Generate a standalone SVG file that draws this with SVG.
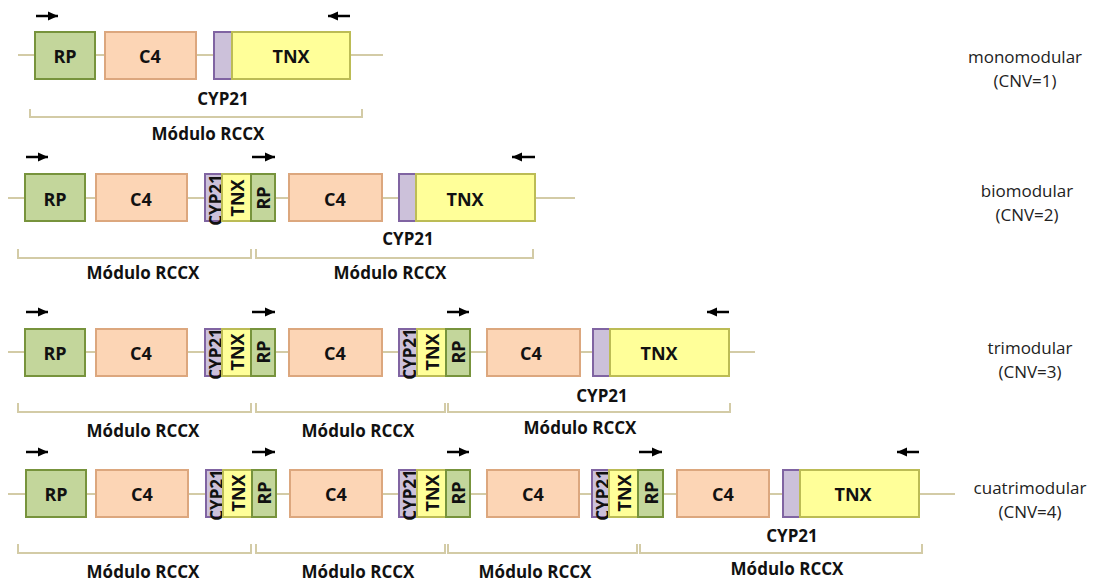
<svg xmlns="http://www.w3.org/2000/svg" width="1096" height="581" viewBox="0 0 1096 581">
<style>
.rp{fill:#c3d69b;stroke:#77933c;stroke-width:2}
.c4{fill:#fcd5b5;stroke:#dca77e;stroke-width:2}
.cyp{fill:#ccc1da;stroke:#8064a2;stroke-width:2}
.tnx{fill:#ffff99;stroke:#bcbc55;stroke-width:2}
.bb{stroke:#d3cba6;stroke-width:2;fill:none}
.br{stroke:#d3cba6;stroke-width:2;fill:none}
.arr{stroke:#000;stroke-width:2.5;fill:none}
text{font-family:"Open Sans","Liberation Sans",sans-serif;fill:#111}
.b{font-weight:bold;font-size:18px;text-anchor:middle;dominant-baseline:central}
.v{font-weight:bold;font-size:17px;text-anchor:middle;dominant-baseline:central}
.m{font-weight:bold;font-size:17px;text-anchor:middle;dominant-baseline:central}
.s{font-size:17px;text-anchor:middle;dominant-baseline:central;fill:#222}
</style>
<defs>
<marker id="ah" markerUnits="userSpaceOnUse" markerWidth="12" markerHeight="12" refX="10" refY="6" orient="auto">
<path d="M0,1.5 L10,6 L0,10.5 Z" fill="#000"/>
</marker>
</defs>

<g id="connectors">
<line class="bb" x1="18" y1="55" x2="383" y2="55"/>
<line class="bb" x1="8" y1="198" x2="575" y2="198"/>
<line class="bb" x1="8" y1="352" x2="755" y2="352"/>
<line class="bb" x1="8" y1="494" x2="955" y2="494"/>
<line class="arr" x1="36" y1="16" x2="58" y2="16" marker-end="url(#ah)"/>
<line class="arr" x1="350" y1="16" x2="328" y2="16" marker-end="url(#ah)"/>
<line class="arr" x1="26" y1="157" x2="48" y2="157" marker-end="url(#ah)"/>
<line class="arr" x1="252" y1="157" x2="275" y2="157" marker-end="url(#ah)"/>
<line class="arr" x1="535" y1="157" x2="512" y2="157" marker-end="url(#ah)"/>
<line class="arr" x1="26" y1="312" x2="48" y2="312" marker-end="url(#ah)"/>
<line class="arr" x1="252" y1="312" x2="275" y2="312" marker-end="url(#ah)"/>
<line class="arr" x1="447" y1="312" x2="469" y2="312" marker-end="url(#ah)"/>
<line class="arr" x1="729" y1="312" x2="707" y2="312" marker-end="url(#ah)"/>
<line class="arr" x1="26" y1="452" x2="48" y2="452" marker-end="url(#ah)"/>
<line class="arr" x1="252" y1="452" x2="275" y2="452" marker-end="url(#ah)"/>
<line class="arr" x1="447" y1="452" x2="469" y2="452" marker-end="url(#ah)"/>
<line class="arr" x1="639" y1="452" x2="662" y2="452" marker-end="url(#ah)"/>
<line class="arr" x1="919" y1="452" x2="897" y2="452" marker-end="url(#ah)"/>
</g>

<g id="brackets">
<path class="br" d="M30,109 V117 H362 V109"/>
<path class="br" d="M18,249 V258 H251 V249"/>
<path class="br" d="M256,249 V258 H533 V249"/>
<path class="br" d="M18,403 V412 H251 V403"/>
<path class="br" d="M256,403 V412 H445 V403"/>
<path class="br" d="M448,403 V412 H730 V403"/>
<path class="br" d="M18,544 V553 H251 V544"/>
<path class="br" d="M256,544 V553 H445 V544"/>
<path class="br" d="M448,544 V553 H637 V544"/>
<path class="br" d="M640,544 V553 H922 V544"/>
</g>

<g id="r1-rp"><rect class="rp" x="35" y="32" width="60" height="47"/><text class="b" x="65" y="56">RP</text></g>
<g id="r1-c4"><rect class="c4" x="105" y="32" width="91" height="47"/><text class="b" x="150" y="56">C4</text></g>
<g id="r1-cyp"><rect class="cyp" x="214" y="32" width="18" height="47"/><text class="m" x="223" y="98">CYP21</text></g>
<g id="r1-tnx"><rect class="tnx" x="232" y="32" width="118" height="47"/><text class="b" x="291" y="56">TNX</text></g>
<g id="r1-label"><text class="m" x="208" y="133">Módulo RCCX</text></g>
<g id="r1-side"><text class="s" x="1025" y="56">monomodular</text><text class="s" x="1025" y="80">(CNV=1)</text></g>

<g id="r2-rp1"><rect class="rp" x="25" y="174" width="60" height="47"/><text class="b" x="55" y="199">RP</text></g>
<g id="r2-c4a"><rect class="c4" x="96" y="174" width="91" height="47"/><text class="b" x="141" y="199">C4</text></g>
<g id="r2-cypa"><rect class="cyp" x="205" y="174" width="17" height="47"/><text class="v" transform="translate(215,200) rotate(-90)">CYP21</text></g>
<g id="r2-tnxa"><rect class="tnx" x="222" y="174" width="29" height="47"/><text class="b" transform="translate(237,198) rotate(-90)">TNX</text></g>
<g id="r2-rp2"><rect class="rp" x="251" y="174" width="24" height="47"/><text class="b" transform="translate(263,198) rotate(-90)">RP</text></g>
<g id="r2-c4b"><rect class="c4" x="289" y="174" width="93" height="47"/><text class="b" x="335" y="199">C4</text></g>
<g id="r2-cypb"><rect class="cyp" x="399" y="174" width="17" height="47"/><text class="m" x="408" y="238">CYP21</text></g>
<g id="r2-tnxb"><rect class="tnx" x="416" y="174" width="119" height="47"/><text class="b" x="465" y="199">TNX</text></g>
<g id="r2-labels"><text class="m" x="143" y="272">Módulo RCCX</text><text class="m" x="390" y="272">Módulo RCCX</text></g>
<g id="r2-side"><text class="s" x="1027" y="190">biomodular</text><text class="s" x="1027" y="214">(CNV=2)</text></g>

<g id="r3-rp1"><rect class="rp" x="25" y="329" width="60" height="47"/><text class="b" x="55" y="353">RP</text></g>
<g id="r3-c4a"><rect class="c4" x="96" y="329" width="91" height="47"/><text class="b" x="141" y="353">C4</text></g>
<g id="r3-cypa"><rect class="cyp" x="205" y="329" width="17" height="47"/><text class="v" transform="translate(215,354) rotate(-90)">CYP21</text></g>
<g id="r3-tnxa"><rect class="tnx" x="222" y="329" width="29" height="47"/><text class="b" transform="translate(237,352) rotate(-90)">TNX</text></g>
<g id="r3-rp2"><rect class="rp" x="251" y="329" width="24" height="47"/><text class="b" transform="translate(263,352) rotate(-90)">RP</text></g>
<g id="r3-c4b"><rect class="c4" x="289" y="329" width="93" height="47"/><text class="b" x="335" y="353">C4</text></g>
<g id="r3-cypb"><rect class="cyp" x="399" y="329" width="18" height="47"/><text class="v" transform="translate(409,354) rotate(-90)">CYP21</text></g>
<g id="r3-tnxb"><rect class="tnx" x="417" y="329" width="29" height="47"/><text class="b" transform="translate(432,352) rotate(-90)">TNX</text></g>
<g id="r3-rp3"><rect class="rp" x="446" y="329" width="24" height="47"/><text class="b" transform="translate(458,352) rotate(-90)">RP</text></g>
<g id="r3-c4c"><rect class="c4" x="487" y="329" width="93" height="47"/><text class="b" x="531" y="353">C4</text></g>
<g id="r3-cypc"><rect class="cyp" x="593" y="329" width="17" height="47"/><text class="m" x="602" y="395">CYP21</text></g>
<g id="r3-tnxc"><rect class="tnx" x="610" y="329" width="119" height="47"/><text class="b" x="659" y="353">TNX</text></g>
<g id="r3-labels"><text class="m" x="143" y="430">Módulo RCCX</text><text class="m" x="358" y="430">Módulo RCCX</text><text class="m" x="580" y="427">Módulo RCCX</text></g>
<g id="r3-side"><text class="s" x="1030" y="347">trimodular</text><text class="s" x="1030" y="371">(CNV=3)</text></g>

<g id="r4-rp1"><rect class="rp" x="26" y="470" width="60" height="47"/><text class="b" x="56" y="494">RP</text></g>
<g id="r4-c4a"><rect class="c4" x="96" y="470" width="92" height="47"/><text class="b" x="142" y="494">C4</text></g>
<g id="r4-cypa"><rect class="cyp" x="206" y="470" width="17" height="47"/><text class="v" transform="translate(216,495) rotate(-90)">CYP21</text></g>
<g id="r4-tnxa"><rect class="tnx" x="223" y="470" width="29" height="47"/><text class="b" transform="translate(238,493) rotate(-90)">TNX</text></g>
<g id="r4-rp2"><rect class="rp" x="252" y="470" width="24" height="47"/><text class="b" transform="translate(264,493) rotate(-90)">RP</text></g>
<g id="r4-c4b"><rect class="c4" x="290" y="470" width="92" height="47"/><text class="b" x="336" y="494">C4</text></g>
<g id="r4-cypb"><rect class="cyp" x="399" y="470" width="18" height="47"/><text class="v" transform="translate(409,495) rotate(-90)">CYP21</text></g>
<g id="r4-tnxb"><rect class="tnx" x="417" y="470" width="29" height="47"/><text class="b" transform="translate(432,493) rotate(-90)">TNX</text></g>
<g id="r4-rp3"><rect class="rp" x="446" y="470" width="24" height="47"/><text class="b" transform="translate(458,493) rotate(-90)">RP</text></g>
<g id="r4-c4c"><rect class="c4" x="487" y="470" width="92" height="47"/><text class="b" x="533" y="494">C4</text></g>
<g id="r4-cypc"><rect class="cyp" x="592" y="470" width="17" height="47"/><text class="v" transform="translate(602,495) rotate(-90)">CYP21</text></g>
<g id="r4-tnxc"><rect class="tnx" x="609" y="470" width="29" height="47"/><text class="b" transform="translate(624,493) rotate(-90)">TNX</text></g>
<g id="r4-rp4"><rect class="rp" x="638" y="470" width="25" height="47"/><text class="b" transform="translate(651,493) rotate(-90)">RP</text></g>
<g id="r4-c4d"><rect class="c4" x="677" y="470" width="92" height="47"/><text class="b" x="723" y="494">C4</text></g>
<g id="r4-cypd"><rect class="cyp" x="783" y="470" width="17" height="47"/><text class="m" x="792" y="535">CYP21</text></g>
<g id="r4-tnxd"><rect class="tnx" x="800" y="470" width="119" height="47"/><text class="b" x="853" y="494">TNX</text></g>
<g id="r4-labels"><text class="m" x="143" y="571">Módulo RCCX</text><text class="m" x="358" y="571">Módulo RCCX</text><text class="m" x="535" y="571">Módulo RCCX</text><text class="m" x="787" y="568">Módulo RCCX</text></g>
<g id="r4-side"><text class="s" x="1030" y="487">cuatrimodular</text><text class="s" x="1030" y="511">(CNV=4)</text></g>
</svg>
